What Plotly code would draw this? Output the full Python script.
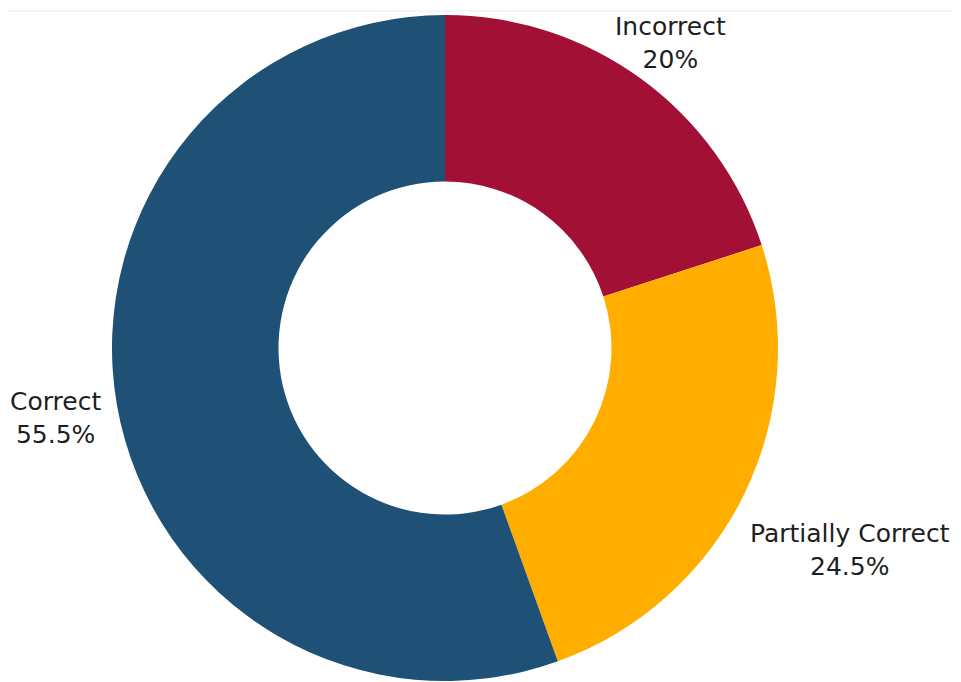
import plotly.graph_objects as go

labels = ["Incorrect", "Partially Correct", "Correct"]
values = [20, 24.5, 55.5]
colors = ["#A31035", "#FFAE00", "#1F5075"]

# label anchor positions (figure pixels)
label_px = [(662, 35), (842, 542), (47, 410)]

W, H = 961, 682
ML, MR, MT, MB = 0, 0, 7, 9
PW, PH = W - ML - MR, H - MT - MB
cx, r = 437, 333

fig = go.Figure(go.Pie(
    labels=labels,
    values=values,
    hole=0.5,
    sort=False,
    direction="clockwise",
    rotation=0,
    marker=dict(colors=colors, line=dict(width=0)),
    textinfo="none",
    hoverinfo="label+percent",
    showlegend=False,
    domain=dict(x=[(cx - r - ML) / PW, (cx + r - ML) / PW], y=[0, 1]),
))

for lab, val, (px, py) in zip(labels, values, label_px):
    fig.add_annotation(
        text=f"{lab}<br>{val:g}%",
        x=(px - ML) / PW, y=(H - MB - py) / PH,
        xref="paper", yref="paper",
        showarrow=False, align="center",
        xanchor="center", yanchor="middle",
        font=dict(size=25, color="#1e1e1e", family="DejaVu Sans"),
    )

fig.add_shape(type="rect", xref="paper", yref="paper",
              x0=-0.02, x1=948 / PW, y0=-0.1, y1=(H - MB - 3) / PH,
              line=dict(color="#ececec", width=1), layer="below")

fig.update_layout(
    width=W, height=H,
    margin=dict(l=ML, r=MR, t=MT, b=MB),
    paper_bgcolor="white", plot_bgcolor="white",
    font=dict(family="DejaVu Sans"),
)

fig.write_html("out.html")
